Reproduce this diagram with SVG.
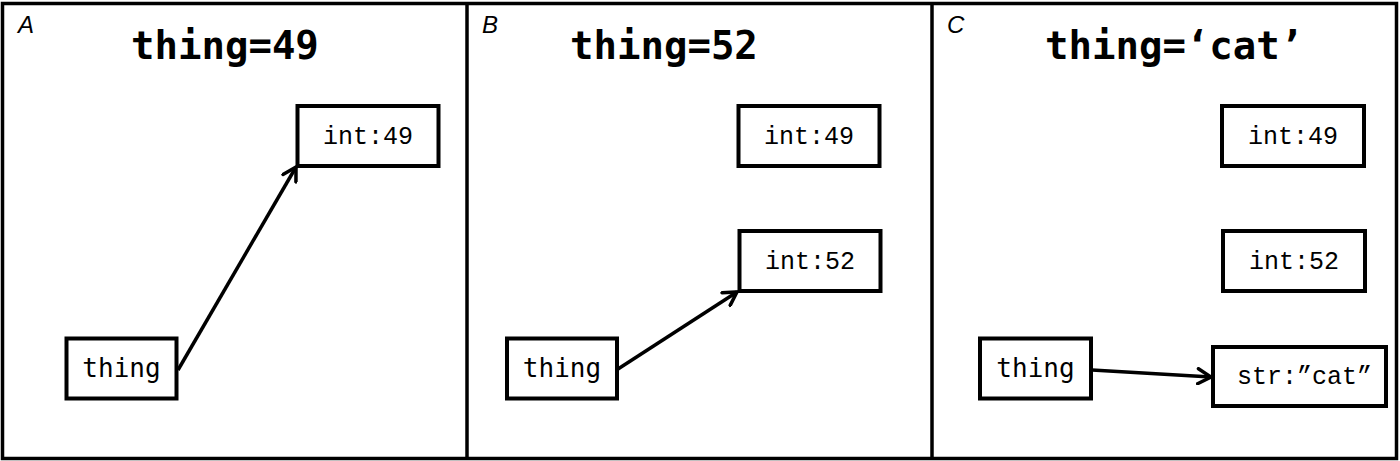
<svg xmlns="http://www.w3.org/2000/svg" width="1400" height="461" viewBox="0 0 1400 461">
<style>
.frame{fill:#fff;stroke:#000;stroke-width:3.5}
.box{fill:#fff;stroke:#000;stroke-width:4}
.lbl{font-family:"Liberation Sans",Arial,sans-serif;font-style:italic;font-size:24px;fill:#000}
.title{font-family:"DejaVu Sans Mono",monospace;font-weight:bold;font-size:39px;fill:#000}
.var{font-family:"DejaVu Sans Mono",monospace;font-size:26px;fill:#000;text-anchor:middle}
.obj{font-family:"Liberation Mono","Courier New",monospace;font-size:25px;fill:#000}
.mid{text-anchor:middle}
.conn{fill:none;stroke:#000;stroke-width:3.5}
</style>
<defs>
<marker id="arr" viewBox="0 0 18 18" refX="15" refY="9" markerWidth="18" markerHeight="18" markerUnits="userSpaceOnUse" orient="auto">
<path d="M2,1.5 L15,9 L2,16.5" fill="none" stroke="#000" stroke-width="3.5" stroke-linecap="round" stroke-linejoin="miter"/>
</marker>
</defs>
<rect x="0" y="0" width="1400" height="461" fill="#fff"/>
<g id="panels">
<rect class="frame" x="2.5" y="3.5" width="1394" height="455"/>
<line x1="467" y1="3.5" x2="467" y2="458.5" stroke="#000" stroke-width="3.5"/>
<line x1="932" y1="3.5" x2="932" y2="458.5" stroke="#000" stroke-width="3.5"/>
<text class="lbl" x="18" y="33">A</text>
<text class="lbl" x="482" y="33">B</text>
<text class="lbl" x="947" y="33">C</text>
<text class="title" x="131" y="59">thing=49</text>
<text class="title" x="570" y="59">thing=52</text>
<text class="title" x="1045" y="59">thing=‘cat’</text>
</g>
<g id="connectors">
<line class="conn" x1="178" y1="370" x2="296" y2="167" marker-end="url(#arr)"/>
<line class="conn" x1="618" y1="369" x2="737" y2="292" marker-end="url(#arr)"/>
<line class="conn" x1="1092" y1="370" x2="1211" y2="377" marker-end="url(#arr)"/>
</g>
<g id="a-thing"><rect class="box" x="66.5" y="338.5" width="110" height="60"/><text class="var" x="121.5" y="377">thing</text></g>
<g id="a-int49"><rect class="box" x="297.5" y="106" width="141" height="60"/><text class="obj mid" x="368" y="144">int:49</text></g>
<g id="b-thing"><rect class="box" x="507" y="338.5" width="110" height="60"/><text class="var" x="562" y="377">thing</text></g>
<g id="b-int49"><rect class="box" x="738.5" y="106" width="141" height="60"/><text class="obj mid" x="809" y="144">int:49</text></g>
<g id="b-int52"><rect class="box" x="739.5" y="231" width="141" height="60"/><text class="obj mid" x="810" y="269">int:52</text></g>
<g id="c-thing"><rect class="box" x="980" y="338.5" width="111" height="60"/><text class="var" x="1035.5" y="377">thing</text></g>
<g id="c-int49"><rect class="box" x="1222" y="106" width="142" height="60"/><text class="obj mid" x="1293" y="144">int:49</text></g>
<g id="c-int52"><rect class="box" x="1223" y="231" width="142" height="60"/><text class="obj mid" x="1294" y="269">int:52</text></g>
<g id="c-str"><rect class="box" x="1213" y="347" width="173" height="59"/><text class="obj" x="1237" y="384">str:”cat”</text></g>
</svg>
